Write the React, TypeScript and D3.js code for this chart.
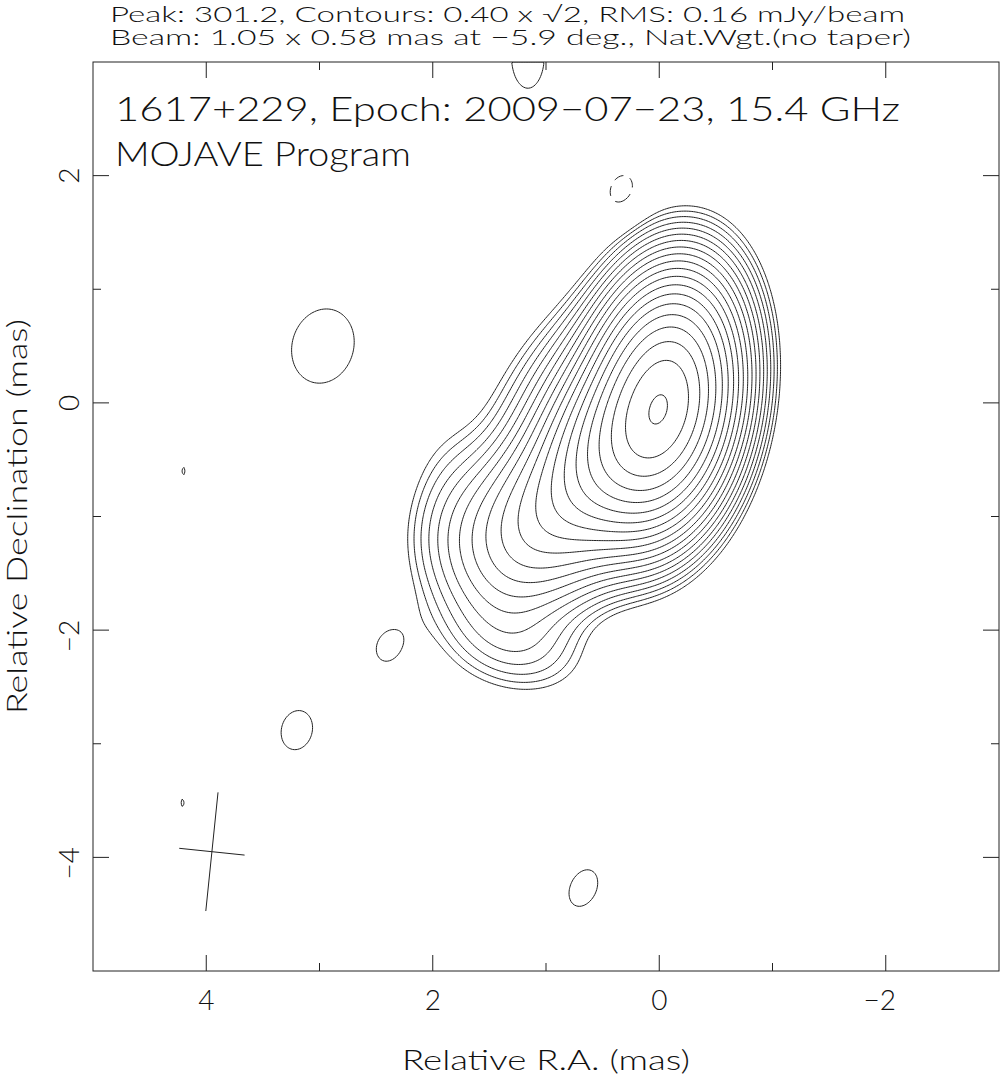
import React, { useEffect, useRef } from 'react';
import * as d3 from 'd3';

// Map extent (mas). R.A. runs right to left.
const raDomain: [number, number] = [5, -3];
const decDomain: [number, number] = [-5, 3];
const xMajorTicks = [4, 2, 0, -2];
const xMinorTicks = [3, 1, -1];
const yMajorTicks = [2, 0, -2, -4];
const yMinorTicks = [1, -1, -3];

const headerLines = [
  'Peak: 301.2, Contours: 0.40 x \u221A2, RMS: 0.16 mJy/beam',
  'Beam: 1.05 x 0.58 mas at \u22125.9 deg., Nat.Wgt.(no taper)',
];
const titleLines = ['1617+229, Epoch: 2009\u221207\u221223, 15.4 GHz', 'MOJAVE Program'];

const peakFlux = 301.2;
const lowestContour = 0.4;
const beamMaj = 1.05;
const beamMin = 0.58;
const beamPa = -5.9;
const beamCenter = [3.95, -3.95];

// Restored-image components (beam convolved): position (mas), peak (mJy/beam), FWHM (mas), PA (deg)
const compRa = [-0.03, 0.32, 0.72, 1.15, 1.3, 1.75, 1.25, 0.6, 1.85, 2.97, 2.4, 3.2, 0.67, 1.16, 4.2, 4.21, 0.33];
const compDec = [0.0, -0.34, -0.78, -1.15, -1.6, -0.75, -2.12, 0.35, -1.15, 0.5, -2.15, -2.88, -4.27, 3.05, -0.6, -3.52, 1.87];
const compPeak = [262, 68, 16, 4.2, 1.25, 0.45, 1.0, 2.0, 0.6, 0.53, 0.45, 0.48, 0.48, 0.5, 0.42, 0.42, -0.5];
const compMaj = [1.14, 1.0, 1.2, 1.0, 1.0, 0.9, 0.85, 1.4, 0.8, 1.04, 0.55, 0.68, 0.66, 0.99, 0.25, 0.25, 0.49];
const compMin = [0.66, 0.72, 0.8, 0.85, 0.85, 0.6, 0.58, 0.7, 0.6, 0.85, 0.42, 0.53, 0.45, 0.51, 0.1, 0.1, 0.37];
const compPa = [-10, -25, -45, -45, -30, 10, 70, -45, 0, -17, -20, -15, -25, 0, 0, 0, -20];

const W = 1001;
const H = 1079;
const plot = { left: 93, top: 62, right: 999, bottom: 971 };
const step = 0.015;
const font = "Lato, 'DejaVu Sans', sans-serif";
const ink = '#222';

function imageValue(ra: number, dec: number): number {
  let v = 0;
  for (let k = 0; k < compRa.length; k++) {
    const dx = ra - compRa[k];
    const dy = dec - compDec[k];
    const t = (compPa[k] * Math.PI) / 180;
    const a = dx * Math.sin(t) + dy * Math.cos(t);
    const b = dx * Math.cos(t) - dy * Math.sin(t);
    const sa = compMaj[k] / 2.3548;
    const sb = compMin[k] / 2.3548;
    v += compPeak[k] * Math.exp(-0.5 * ((a * a) / (sa * sa) + (b * b) / (sb * sb)));
  }
  return v;
}

const App: React.FC = () => {
  const svgRef = useRef<SVGSVGElement>(null);

  useEffect(() => {
    if (!svgRef.current) return;
    const svg = d3.select(svgRef.current);
    svg.selectAll('*').remove();

    const x = d3.scaleLinear().domain(raDomain).range([plot.left, plot.right]);
    const y = d3.scaleLinear().domain(decDomain).range([plot.bottom, plot.top]);

    // sample the map on a regular grid
    const nx = Math.round((raDomain[0] - raDomain[1]) / step);
    const ny = Math.round((decDomain[1] - decDomain[0]) / step);
    const values = new Array(nx * ny);
    for (let j = 0; j < ny; j++) {
      const dec = decDomain[1] - (j + 0.5) * step;
      for (let i = 0; i < nx; i++) {
        const ra = raDomain[0] - (i + 0.5) * step;
        values[j * nx + i] = imageValue(ra, dec);
      }
    }

    const levels: number[] = [];
    for (let l = lowestContour; l <= peakFlux; l *= Math.SQRT2) levels.push(l);

    const proj = d3.geoTransform({
      point(px, py) {
        this.stream.point(x(raDomain[0] - px * step), y(decDomain[1] - py * step));
      },
    });
    const path = d3.geoPath(proj);

    svg.append('defs').append('clipPath').attr('id', 'plotClip')
      .append('rect')
      .attr('x', plot.left).attr('y', plot.top)
      .attr('width', plot.right - plot.left).attr('height', plot.bottom - plot.top);

    const g = svg.append('g').attr('clip-path', 'url(#plotClip)');

    const pos = d3.contours().size([nx, ny]).thresholds(levels)(values);
    g.selectAll('path.pos')
      .data(pos)
      .enter().append('path')
      .attr('class', 'pos')
      .attr('d', d => path(d as any))
      .attr('fill', 'none')
      .attr('stroke', ink)
      .attr('stroke-width', 1);

    // negative contour, dashed
    const neg = d3.contours().size([nx, ny]).thresholds([lowestContour])(values.map(v => -v));
    g.selectAll('path.neg')
      .data(neg)
      .enter().append('path')
      .attr('class', 'neg')
      .attr('d', d => path(d as any))
      .attr('fill', 'none')
      .attr('stroke', ink)
      .attr('stroke-width', 1)
      .attr('stroke-dasharray', '10,7');

    // beam cross
    const t = (beamPa * Math.PI) / 180;
    const axes = [
      [beamMaj, Math.sin(t), Math.cos(t)],
      [beamMin, Math.cos(t), -Math.sin(t)],
    ];
    axes.forEach(([len, ux, uy]) => {
      g.append('line')
        .attr('x1', x(beamCenter[0] - (len / 2) * ux))
        .attr('y1', y(beamCenter[1] - (len / 2) * uy))
        .attr('x2', x(beamCenter[0] + (len / 2) * ux))
        .attr('y2', y(beamCenter[1] + (len / 2) * uy))
        .attr('stroke', ink)
        .attr('stroke-width', 1);
    });

    // frame
    svg.append('rect')
      .attr('x', plot.left).attr('y', plot.top)
      .attr('width', plot.right - plot.left).attr('height', plot.bottom - plot.top)
      .attr('fill', 'none').attr('stroke', ink).attr('stroke-width', 1);

    // ticks (inward, all four sides)
    const ticks = svg.append('g').attr('stroke', ink).attr('stroke-width', 1);
    const xt = [...xMajorTicks.map(v => [v, 16]), ...xMinorTicks.map(v => [v, 8])];
    xt.forEach(([v, len]) => {
      ticks.append('line').attr('x1', x(v)).attr('x2', x(v)).attr('y1', plot.bottom).attr('y2', plot.bottom - len);
      ticks.append('line').attr('x1', x(v)).attr('x2', x(v)).attr('y1', plot.top).attr('y2', plot.top + len);
    });
    const yt = [...yMajorTicks.map(v => [v, 16]), ...yMinorTicks.map(v => [v, 8])];
    yt.forEach(([v, len]) => {
      ticks.append('line').attr('y1', y(v)).attr('y2', y(v)).attr('x1', plot.left).attr('x2', plot.left + len);
      ticks.append('line').attr('y1', y(v)).attr('y2', y(v)).attr('x1', plot.right).attr('x2', plot.right - len);
    });

    const txt = svg.append('g')
      .attr('font-family', font)
      .attr('font-weight', 300)
      .attr('fill', '#111');

    const fmt = (v: number) => (v < 0 ? '\u2212' + Math.abs(v) : String(v));

    xMajorTicks.forEach(v => {
      txt.append('text')
        .attr('x', x(v) + (v < 0 ? -6 : 0)).attr('y', 1010)
        .attr('text-anchor', 'middle')
        .attr('font-size', 28)
        .text(fmt(v));
    });
    yMajorTicks.forEach(v => {
      txt.append('text')
        .attr('transform', `translate(79,${y(v) + (v < 0 ? 6 : 0)}) rotate(-90)`)
        .attr('text-anchor', 'middle')
        .attr('font-size', 28)
        .text(fmt(v));
    });

    txt.append('text')
      .attr('x', (plot.left + plot.right) / 2).attr('y', 1070)
      .attr('text-anchor', 'middle')
      .attr('font-size', 28)
      .attr('textLength', 288).attr('lengthAdjust', 'spacingAndGlyphs')
      .text('Relative R.A. (mas)');

    txt.append('text')
      .attr('transform', `translate(27,${(plot.top + plot.bottom) / 2}) rotate(-90)`)
      .attr('text-anchor', 'middle')
      .attr('font-size', 28)
      .attr('textLength', 395).attr('lengthAdjust', 'spacingAndGlyphs')
      .text('Relative Declination (mas)');

    const headerSpec = [
      { y: 22, len: 795 },
      { y: 45, len: 801 },
    ];
    headerLines.forEach((s, i) => {
      txt.append('text')
        .attr('x', 110).attr('y', headerSpec[i].y)
        .attr('font-size', 21)
        .attr('textLength', headerSpec[i].len).attr('lengthAdjust', 'spacingAndGlyphs')
        .text(s);
    });

    const titleSpec = [
      { y: 121, len: 785 },
      { y: 166, len: 296 },
    ];
    titleLines.forEach((s, i) => {
      txt.append('text')
        .attr('x', 115).attr('y', titleSpec[i].y)
        .attr('font-size', 34)
        .attr('textLength', titleSpec[i].len).attr('lengthAdjust', 'spacingAndGlyphs')
        .text(s);
    });
  }, []);

  return (
    <svg
      ref={svgRef}
      width={W}
      height={H}
      style={{ position: 'absolute', left: 0, top: 0, background: '#fff' }}
    />
  );
};

export default App;
